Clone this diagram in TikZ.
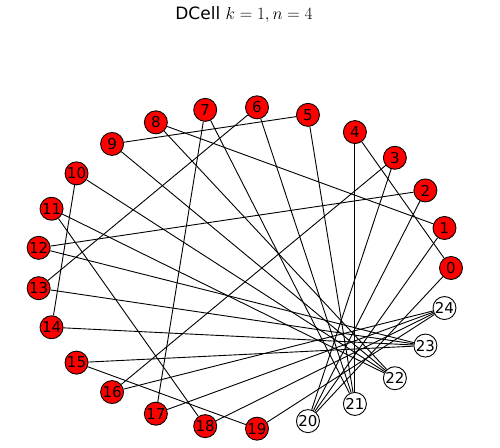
\documentclass[tikz,border=0pt]{standalone}
\usepackage{fontspec}
\setmainfont{DejaVu Sans}
\begin{document}
\begin{tikzpicture}[x=1pt,y=-1pt,
  vtx/.style={circle,draw=black,line width=0.9pt,minimum size=23pt,inner sep=0pt,font=\fontsize{15}{18}\selectfont},
  srv/.style={vtx,fill=red},
  sw/.style={vtx,fill=white},
  edge/.style={draw=black,line width=0.9pt}]
\useasboundingbox (0,0) rectangle (500,447);
\node[font=\fontsize{17}{20}\selectfont] (title) at (244,15) {DCell {\fontsize{18.5}{20}\selectfont$k=1, n=4$}};
\foreach \i in {0,...,24}{
  \pgfmathsetmacro\ang{\i*14.4}
  \ifnum\i<20
    \node[srv] (n\i) at ({244+207*cos(\ang)},{268-161*sin(\ang)}) {\i};
  \else
    \node[sw] (n\i) at ({244+207*cos(\ang)},{268-161*sin(\ang)}) {\i};
  \fi
}
% level-1 links
\foreach \a/\b in {0/4,1/8,2/12,3/16,5/9,6/13,7/17,10/14,11/18,15/19}{
  \draw[edge] (n\a) -- (n\b);
}
% switch links
\foreach \s in {0,...,4}{
  \foreach \j in {0,...,3}{
    \pgfmathtruncatemacro\srvi{4*\s+\j}
    \pgfmathtruncatemacro\swi{20+\s}
    \draw[edge] (n\srvi) -- (n\swi);
  }
}
\end{tikzpicture}
\end{document}
